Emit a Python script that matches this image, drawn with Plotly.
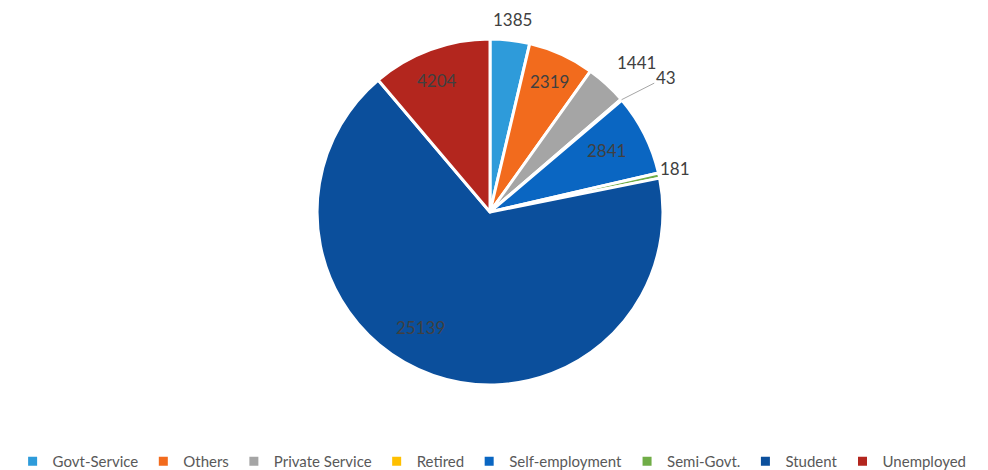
import math
import plotly.graph_objects as go

categories = ["Govt-Service", "Others", "Private Service", "Retired",
              "Self-employment", "Semi-Govt.", "Student", "Unemployed"]
values = [1385, 2319, 1441, 43, 2841, 181, 25139, 4204]
colors = ["#2E9BDA", "#F26B1D", "#A5A5A5", "#FFC000",
          "#0A66C2", "#70AD47", "#0B4F9C", "#B3261E"]

# page body has an 8px margin, so the figure is drawn 8px narrower
W, H = 980, 470
dom_x = [0.0, 0.9837]
dom_y = [0.198, 0.934]
cx = (dom_x[0] + dom_x[1]) / 2 * W
cy = (1 - (dom_y[0] + dom_y[1]) / 2) * H
R = min((dom_x[1] - dom_x[0]) * W, (dom_y[1] - dom_y[0]) * H) / 2

fig = go.Figure(go.Pie(
    labels=categories,
    values=values,
    sort=False,
    direction="clockwise",
    rotation=0,
    marker=dict(colors=colors, line=dict(color="white", width=3)),
    textinfo="none",
    domain=dict(x=dom_x, y=dom_y),
    hoverinfo="label+value",
))

# label placement style per slice: radius factor, angle shift (deg), leader line
label_style = {
    "Govt-Service": (1.12, 0.0, False),
    "Others": (0.83, 0.0, False),
    "Private Service": (1.21, 2.0, False),
    "Retired": (1.28, 3.0, True),
    "Self-employment": (0.76, -1.0, False),
    "Semi-Govt.": (1.10, -1.0, True),
    "Student": (0.78, 12.0, False),
    "Unemployed": (0.82, -2.0, False),
}
total = sum(values)
cum = 0.0
annotations = []
for cat, v in zip(categories, values):
    mid = (cum + v / 2) / total * 360
    cum += v
    rf, shift, leader = label_style[cat]
    a = math.radians(mid + shift)
    lx = cx + R * rf * math.sin(a)
    ly = cy - R * rf * math.cos(a)
    font = dict(size=17, color="#404040", family="Lato")
    if leader:
        a0 = math.radians(mid)
        ex = cx + R * math.sin(a0)
        ey = cy - R * math.cos(a0)
        annotations.append(dict(
            x=ex / W, y=1 - ey / H, xref="paper", yref="paper",
            text=str(v), showarrow=True, arrowhead=0, arrowwidth=1,
            arrowcolor="#A6A6A6", ax=lx - ex, ay=ly - ey, font=font,
        ))
    else:
        annotations.append(dict(
            x=lx / W, y=1 - ly / H, xref="paper", yref="paper",
            xanchor="center", yanchor="middle",
            text=str(v), showarrow=False, font=font,
        ))

fig.update_layout(
    width=W, height=H,
    margin=dict(l=0, r=0, t=0, b=0),
    paper_bgcolor="white",
    plot_bgcolor="white",
    font=dict(family="Lato", color="#595959", size=15),
    annotations=annotations,
    legend=dict(orientation="h", x=0.494, xanchor="center", y=0.0, yanchor="bottom",
                font=dict(size=15, color="#595959", family="Lato"), itemwidth=30,
                traceorder="normal"),
)

fig.write_html("out.html")
